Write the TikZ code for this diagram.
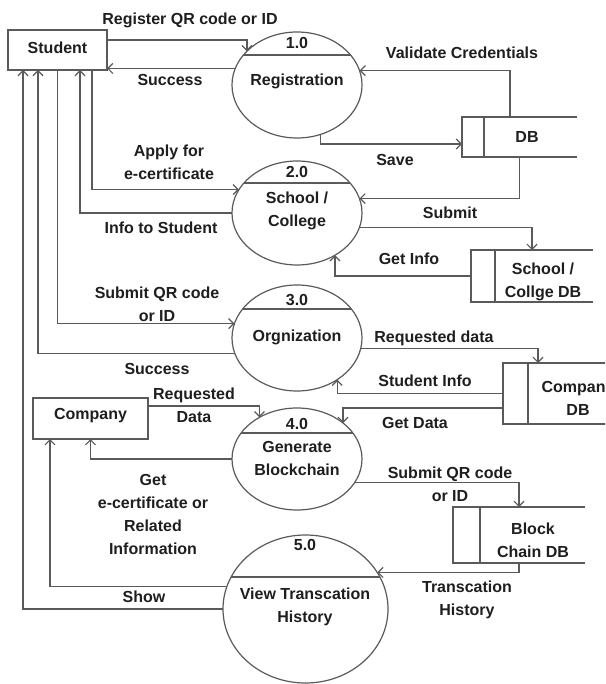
\documentclass[tikz,border=0pt]{standalone}
\usepackage{fontspec}
\setmainfont{Liberation Sans}
\usepackage{xcolor}
\usepackage{tikz}
\usetikzlibrary{shapes.geometric, arrows.meta}

\definecolor{linec}{HTML}{5A5A5A}
\definecolor{txtc}{HTML}{1E1E1E}

\begin{document}
\begin{tikzpicture}[
      x=1pt, y=-1pt,
      lbl/.style={font=\bfseries\fontsize{16}{23}\selectfont, text=txtc, align=center, inner sep=0pt},
      entity/.style={draw=linec, line width=1.2pt, inner sep=0pt, outer sep=0pt},
      proc/.style={draw=linec, line width=1.2pt, ellipse, inner sep=0pt, outer sep=0pt,
                   path picture={\draw[linec, line width=1.2pt]
                     ([yshift=-#1]path picture bounding box.north west) --
                     ([yshift=-#1]path picture bounding box.north east);}},
      store/.style={inner sep=0pt, outer sep=0pt},
      wire/.style={draw=linec, line width=1.2pt},
      flow/.style={wire, -{Straight Barb[length=5pt, width=10pt]}}
    ]
    \useasboundingbox (0,0) rectangle (605,684);
    \clip (0,0) rectangle (605,684);

    % external entities
    \node[entity, minimum width=99pt, minimum height=40pt] (student) at (57.5,50) {};
    \node[lbl] (studenttxt) at (57.5,48) {Student};
    \node[entity, minimum width=115pt, minimum height=41pt] (company) at (90.5,418.5) {};
    \node[lbl] (companytxt) at (90.5,416) {Company};

    % processes
    \node[proc=23pt, minimum width=130pt, minimum height=106pt] (p1) at (297,85) {};
    \node[proc=22pt, minimum width=130pt, minimum height=104pt] (p2) at (297,213) {};
    \node[proc=24pt, minimum width=130pt, minimum height=106pt] (p3) at (297,338) {};
    \node[proc=25pt, minimum width=130pt, minimum height=102pt] (p4) at (297,459) {};
    \node[proc=42pt, minimum width=165pt, minimum height=148pt] (p5) at (305.5,609) {};
    \node[lbl] (p1n) at (297,43) {1.0};
    \node[lbl] (p1t) at (297,81) {Registration};
    \node[lbl] (p2n) at (297,172) {2.0};
    \node[lbl] (p2t) at (297,211) {School /\\College};
    \node[lbl] (p3n) at (297,300) {3.0};
    \node[lbl] (p3t) at (297,337) {Orgnization};
    \node[lbl] (p4n) at (297,424) {4.0};
    \node[lbl] (p4t) at (297,458) {Generate\\Blockchain};
    \node[lbl] (p5n) at (305,545) {5.0};
    \node[lbl] (p5t) at (305,607) {View Transcation\\History};

    % data stores
    \node[store, minimum width=115pt, minimum height=40pt] (db) at (519.5,137) {};
    \node[store, minimum width=122pt, minimum height=52pt] (sdb) at (532,276) {};
    \node[store, minimum width=150pt, minimum height=61pt] (cdb) at (578,393.5) {};
    \node[store, minimum width=132pt, minimum height=56pt] (bdb) at (519,535) {};
    \foreach \s/\d in {db/22, sdb/24, cdb/25, bdb/27}
      \draw[wire] (\s.north east) -- (\s.north west) -- (\s.south west) -- (\s.south east)
                  ([xshift=\d pt]\s.north west) -- ([xshift=\d pt]\s.south west);
    \node[lbl] (dbtxt) at (527,137) {DB};
    \node[lbl] (sdbtxt) at (543,282) {School /\\Collge DB};
    \node[lbl] (cdbtxt) at (578,398) {Company\\DB};
    \node[lbl] (bdbtxt) at (533,540) {Block\\Chain DB};

    % data flows
    \draw[flow] ([yshift=10pt]student.east) -| (p1.146);
    \draw[flow] (p1.165) -- (student.east |- p1.165);
    \draw[flow] ([xshift=-9.5pt]db.north) |- (p1.13);
    \draw[flow] (p1.295) |- ([yshift=-7pt]db.west);
    \draw[flow] (db.south) |- (p2.13);
    \draw[flow] ([xshift=34.5pt]student.south) |- (p2.158);
    \draw[flow] (p2.west) -| ([xshift=22.5pt]student.south);
    \draw[flow] (p2.347) -| (sdb.north);
    \draw[flow] (sdb.west) -| (p2.312);
    \draw[flow] (student.south) |- (p3.167);
    \draw[flow] (p3.194) -| ([xshift=-19.5pt]student.south);
    \draw[flow] (p3.351) -| ([xshift=35pt]cdb.north west);
    \draw[flow] (cdb.west) -| (p3.314);
    \draw[flow] ([yshift=-14.5pt]cdb.west) -| (p4.38);
    \draw[flow] ([yshift=12.5pt]company.east) -| (p4.132);
    \draw[flow] (p4.west) -| (company.south);
    \draw[flow] (p4.338) -| (bdb.north);
    \draw[flow] (bdb.south) |- (p5.27);
    \draw[flow] (p5.164) -| ([xshift=-40.5pt]company.south);
    \draw[flow] (p5.west) -| ([xshift=-34.5pt]student.south);

    % flow labels
    \node[lbl] (l1) at (190,20) {Register QR code or ID};
    \node[lbl] (l2) at (170,80) {Success};
    \node[lbl] (l3) at (462,53) {Validate Credentials};
    \node[lbl] (l4) at (395,160) {Save};
    \node[lbl] (l5) at (169,162) {Apply for\\e-certificate};
    \node[lbl] (l6) at (161,228) {Info to Student};
    \node[lbl] (l7) at (450,213) {Submit};
    \node[lbl] (l8) at (409,259) {Get Info};
    \node[lbl] (l9) at (157,304) {Submit QR code\\or ID};
    \node[lbl] (l10) at (157,369) {Success};
    \node[lbl] (l11) at (434,338) {Requested data};
    \node[lbl] (l12) at (425,381) {Student Info};
    \node[lbl] (l13) at (415,423) {Get Data};
    \node[lbl] (l14) at (194,405) {Requested\\Data};
    \node[lbl] (l15) at (153,514) {Get\\e-certificate or\\Related\\Information};
    \node[lbl] (l16) at (450,484) {Submit QR code\\or ID};
    \node[lbl] (l17) at (467,600) {Transcation\\History};
    \node[lbl] (l18) at (144,597) {Show};
  \end{tikzpicture}
\end{document}
